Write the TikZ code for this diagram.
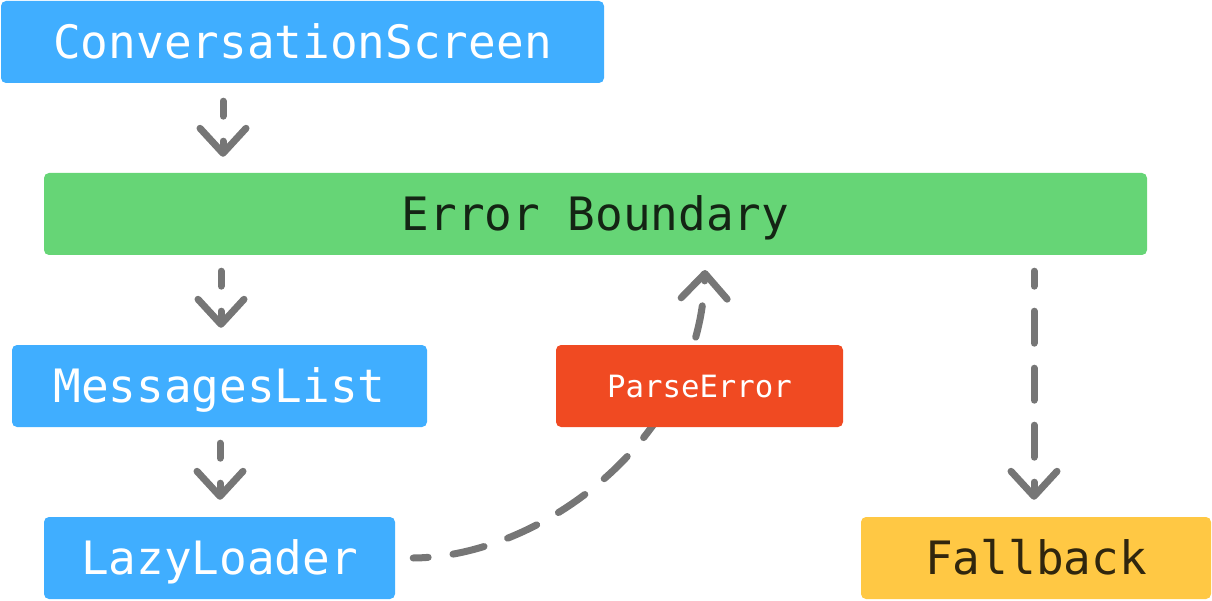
\documentclass[tikz,border=0pt]{standalone}
\usepackage{fontspec}
\setmonofont{DejaVu Sans Mono}
\usetikzlibrary{arrows.meta}
\definecolor{cblue}{HTML}{40AEFF}
\definecolor{cgreen}{HTML}{66D576}
\definecolor{cred}{HTML}{F04A22}
\definecolor{cyellow}{HTML}{FFC844}
\definecolor{cgray}{HTML}{767676}
\definecolor{cdarkg}{HTML}{142414}
\definecolor{cdarky}{HTML}{30260E}
\tikzset{
  box/.style={rounded corners=5pt, inner sep=0pt, minimum height=82pt,
    font=\ttfamily\fontsize{46}{46}\selectfont, text height=33.5pt, text depth=0pt},
  bluebox/.style={box, fill=cblue, text=white},
  flow/.style={draw=cgray, line width=7pt, line cap=round,
    dash pattern=on 32pt off 25pt, dash phase=17pt,
    -{Straight Barb[length=25pt,width=46pt,round]}},
}
\begin{document}
\begin{tikzpicture}[x=1pt,y=-1pt]
\useasboundingbox (0,0) rectangle (1212,601);
\node[bluebox, minimum width=603pt] (cs) at (302.5,42) {ConversationScreen};
\node[box, fill=cgreen, text=cdarkg, minimum width=1103pt] (eb) at (595.5,214) {Error Boundary};
\node[bluebox, minimum width=415pt] (ml) at (219.5,386) {MessagesList};
\node[bluebox, minimum width=351pt] (ll) at (219.5,558) {LazyLoader};
\node[box, fill=cyellow, text=cdarky, minimum width=350pt] (fb) at (1036,558) {Fallback};
\coordinate (ebtip) at (705,270);
\draw[flow, shorten <=18pt, shorten >=16pt] (cs.south -| 223,0) -- (eb.north -| 223,0);
\draw[flow, shorten <=16pt, shorten >=17pt] (eb.south -| 221,0) -- (ml.north -| 221,0);
\draw[flow, shorten <=16pt, shorten >=17pt] (ml.south -| 220,0) -- (ll.north -| 220,0);
\draw[flow, shorten <=16pt, shorten >=17pt] (eb.south -| 1034,0) -- (fb.north -| 1034,0);
\draw[flow] ([xshift=18pt]ll.east) .. controls (540,557) and (700,440) .. (ebtip);
\node[box, fill=cred, text=white, minimum width=287pt,
  font=\ttfamily\fontsize{30.7}{31}\selectfont, text height=22.4pt] (pe) at (699.5,386) {ParseError};
\end{tikzpicture}
\end{document}
